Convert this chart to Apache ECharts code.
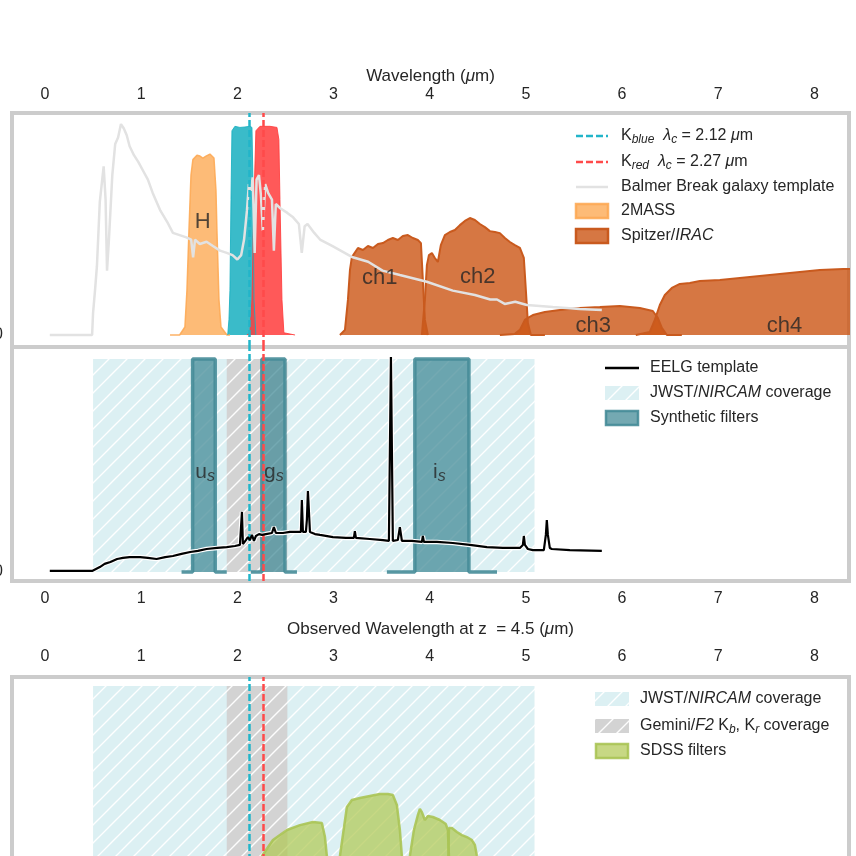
<!DOCTYPE html>
<html><head><meta charset="utf-8">
<script src="https://cdn.jsdelivr.net/npm/echarts@6.0.0/dist/echarts.min.js"></script>
<style>html,body{margin:0;padding:0;background:#fff}#c{width:856px;height:856px}</style>
</head><body><div id="c"></div>
<script>
// ---------------- data ----------------
const xTicks = [0, 1, 2, 3, 4, 5, 6, 7, 8];
const kBlueCenter = 2.12;
const kRedCenter = 2.27;

const balmerTemplate = [[0.05,0],[0.49,0],[0.50,0.10],[0.52,0.20],[0.54,0.31],[0.57,0.60],[0.61,0.76],[0.63,0.61],[0.645,0.29],[0.665,0.43],[0.70,0.72],[0.73,0.86],[0.76,0.89],[0.79,0.95],[0.82,0.93],[0.85,0.90],[0.88,0.85],[0.925,0.81],[0.97,0.78],[1.02,0.74],[1.07,0.70],[1.12,0.64],[1.20,0.56],[1.27,0.51],[1.33,0.46],[1.40,0.45],[1.47,0.44],[1.52,0.43],[1.54,0.35],[1.56,0.43],[1.61,0.41],[1.68,0.42],[1.75,0.40],[1.82,0.38],[1.89,0.37],[1.95,0.36],[2.00,0.34],[2.04,0.36],[2.07,0.43],[2.10,0.56],[2.12,0.68],[2.14,0.65],[2.16,0.71],[2.18,0.37],[2.20,0.70],[2.225,0.72],[2.245,0.63],[2.265,0.47],[2.29,0.68],[2.32,0.64],[2.36,0.61],[2.38,0.38],[2.40,0.59],[2.45,0.57],[2.52,0.55],[2.58,0.53],[2.64,0.50],[2.67,0.37],[2.70,0.49],[2.73,0.50],[2.80,0.46],[2.86,0.43],[2.99,0.40],[3.20,0.35],[3.36,0.33],[3.51,0.29],[3.69,0.27],[3.97,0.24],[4.24,0.20],[4.47,0.18],[4.63,0.16],[4.70,0.16],[4.78,0.14],[4.89,0.15],[5.01,0.135],[5.28,0.126],[5.56,0.117],[5.79,0.113]];

const filterH = [[1.30,0],[1.40,0],[1.455,0.036],[1.476,0.20],[1.497,0.47],[1.518,0.72],[1.538,0.79],[1.58,0.81],[1.611,0.806],[1.642,0.797],[1.674,0.806],[1.715,0.815],[1.757,0.797],[1.778,0.65],[1.788,0.47],[1.809,0.16],[1.83,0.036],[1.892,0],[1.923,0]];
const filterKblue = [[1.90,0],[1.913,0.07],[1.923,0.20],[1.934,0.61],[1.944,0.92],[1.975,0.94],[2.027,0.935],[2.079,0.937],[2.131,0.94],[2.152,0.935],[2.162,0.70],[2.173,0.16],[2.193,0]];
const filterKred = [[2.10,0],[2.131,0.01],[2.152,0.16],[2.173,0.61],[2.193,0.92],[2.235,0.94],[2.339,0.94],[2.412,0.935],[2.432,0.88],[2.443,0.61],[2.464,0.16],[2.484,0.01],[2.60,0]];

const iracCh1 = [[3.067,0],[3.119,0.023],[3.150,0.158],[3.171,0.293],[3.191,0.351],[3.254,0.392],[3.306,0.383],[3.358,0.401],[3.410,0.392],[3.462,0.410],[3.514,0.414],[3.565,0.428],[3.617,0.437],[3.669,0.428],[3.721,0.446],[3.773,0.450],[3.825,0.437],[3.877,0.428],[3.909,0.414],[3.929,0.248],[3.950,0.068],[3.981,0]];
const iracCh2 = [[3.919,0],[3.950,0.158],[3.971,0.315],[3.992,0.360],[4.023,0.369],[4.054,0.347],[4.085,0.329],[4.116,0.405],[4.158,0.450],[4.210,0.464],[4.262,0.473],[4.314,0.495],[4.366,0.514],[4.418,0.527],[4.470,0.518],[4.522,0.500],[4.574,0.486],[4.626,0.468],[4.678,0.464],[4.730,0.459],[4.782,0.437],[4.834,0.419],[4.886,0.405],[4.938,0.392],[4.979,0.347],[5.000,0.203],[5.021,0.054],[5.052,0],[5.198,0]];
const iracCh3 = [[4.730,0],[4.886,0.005],[4.938,0.023],[4.990,0.068],[5.021,0.077],[5.073,0.090],[5.198,0.104],[5.353,0.113],[5.561,0.122],[5.769,0.126],[5.977,0.131],[6.185,0.122],[6.320,0.108],[6.372,0.077],[6.414,0.032],[6.466,0],[6.622,0]];
const iracCh4 = [[6.143,0],[6.289,0.014],[6.341,0.068],[6.393,0.135],[6.445,0.180],[6.518,0.212],[6.601,0.230],[6.705,0.234],[6.809,0.243],[7.017,0.248],[7.225,0.257],[7.432,0.266],[7.640,0.275],[7.848,0.284],[8.056,0.293],[8.30,0.297],[8.50,0.298]];

const topLabelText = ['H', 'ch1', 'ch2', 'ch3', 'ch4'];
const topLabelPos = [[1.64,0.51],[3.48,0.255],[4.50,0.26],[5.70,0.042],[7.69,0.042]];

const eelgTemplate = [[0.05,0.005],[0.49,0.005],[0.57,0.023],[0.62,0.038],[0.68,0.047],[0.75,0.061],[0.81,0.066],[0.88,0.070],[0.99,0.070],[1.07,0.066],[1.16,0.061],[1.25,0.070],[1.33,0.075],[1.42,0.085],[1.51,0.094],[1.59,0.099],[1.68,0.108],[1.79,0.113],[1.89,0.117],[1.975,0.122],[2.027,0.127],[2.037,0.131],[2.048,0.282],[2.058,0.131],[2.089,0.150],[2.110,0.164],[2.131,0.150],[2.152,0.174],[2.173,0.146],[2.193,0.169],[2.225,0.178],[2.256,0.174],[2.297,0.178],[2.360,0.183],[2.380,0.211],[2.401,0.183],[2.474,0.183],[2.547,0.188],[2.620,0.188],[2.661,0.188],[2.671,0.338],[2.682,0.188],[2.713,0.188],[2.723,0.244],[2.734,0.380],[2.755,0.188],[2.807,0.178],[2.859,0.174],[2.994,0.164],[3.129,0.160],[3.212,0.160],[3.222,0.192],[3.233,0.160],[3.378,0.155],[3.514,0.150],[3.576,0.146],[3.597,1.009],[3.617,0.146],[3.669,0.150],[3.690,0.211],[3.711,0.146],[3.815,0.146],[3.919,0.141],[3.929,0.169],[3.940,0.141],[4.075,0.141],[4.241,0.136],[4.418,0.127],[4.595,0.117],[4.761,0.113],[4.938,0.113],[4.969,0.127],[4.979,0.169],[4.990,0.127],[5.021,0.108],[5.073,0.103],[5.187,0.103],[5.208,0.174],[5.218,0.244],[5.229,0.174],[5.249,0.113],[5.270,0.108],[5.457,0.103],[5.790,0.099]];

const nircamRange = [0.5, 5.09];
const geminiRange = [1.89, 2.52];
const coverageTop = 1.0;

const synthU = [[1.42,0],[1.535,0],[1.535,1],[1.77,1],[1.77,0],[1.89,0]];
const synthG = [[2.14,0],[2.255,0],[2.255,1],[2.495,1],[2.495,0],[2.62,0]];
const synthI = [[3.555,0],[3.846,0],[3.846,1],[4.408,1],[4.408,0],[4.70,0]];
const synthLabelText = ['{n|u}{s|s}', '{n|g}{s|s}', '{n|i}{s|s}'];
const synthLabelPos = [[1.665,0.47],[2.38,0.47],[4.10,0.47]];

const sdssG = [[2.10,0],[2.18,0.08],[2.256,0.202],[2.370,0.277],[2.516,0.324],[2.651,0.347],[2.786,0.362],[2.879,0.357],[2.911,0.291],[2.931,0.202],[2.95,0.06],[2.98,0]];
const sdssR = [[3.00,0],[3.04,0.08],[3.067,0.202],[3.139,0.432],[3.191,0.465],[3.274,0.474],[3.378,0.484],[3.482,0.493],[3.565,0.493],[3.617,0.488],[3.659,0.441],[3.690,0.324],[3.711,0.202],[3.73,0.08],[3.76,0]];
const sdssI = [[3.75,0],[3.78,0.08],[3.794,0.202],[3.836,0.324],[3.877,0.394],[3.898,0.423],[3.919,0.408],[3.950,0.371],[3.981,0.390],[4.033,0.385],[4.106,0.371],[4.168,0.352],[4.189,0.324],[4.20,0.202],[4.22,0.06],[4.25,0]];
const sdssZ = [[4.18,0],[4.19,0.1],[4.200,0.333],[4.231,0.333],[4.283,0.315],[4.335,0.300],[4.387,0.291],[4.439,0.277],[4.470,0.254],[4.491,0.202],[4.55,0.08],[4.70,0]];

const legendTop = ['K{sub|blue}  {i|λ}{sub|c} = 2.12 {i|μ}m', 'K{sub|red}  {i|λ}{sub|c} = 2.27 {i|μ}m', 'Balmer Break galaxy template', '2MASS', 'Spitzer/{i|IRAC}'];
const legendMid = ['EELG template', 'JWST/{i|NIRCAM} coverage', 'Synthetic filters'];
const legendBot = ['JWST/{i|NIRCAM} coverage', 'Gemini/{i|F2} K{sub|b}, K{sub|r} coverage', 'SDSS filters'];

// ---------------- style ----------------
const FONT = '"Liberation Sans", Arial, Helvetica, sans-serif';
const TXT = '#262626';
const C = {
  kblue: '#22b5c9', kred: '#ff4a4a',
  kblueFill: 'rgba(23,175,192,0.85)', kredFill: 'rgba(255,60,60,0.85)',
  hFill: 'rgba(253,170,85,0.8)', hEdge: 'rgba(253,170,85,0.9)',
  iracFill: 'rgba(204,85,20,0.8)', iracEdge: '#c95a1e',
  template: '#e2e2e2',
  synthFill: 'rgba(70,140,152,0.75)', synthEdge: 'rgba(70,140,152,0.9)',
  sdssFill: 'rgba(175,200,80,0.7)', sdssEdge: 'rgba(170,196,85,0.9)'
};
function hatch(bg) {
  const s = 18, c = document.createElement('canvas');
  c.width = s; c.height = s;
  const g = c.getContext('2d');
  g.fillStyle = bg; g.fillRect(0, 0, s, s);
  g.strokeStyle = 'rgba(255,255,255,0.95)'; g.lineWidth = 1.4;
  g.beginPath();
  g.moveTo(-2, s + 2); g.lineTo(s + 2, -2);
  g.moveTo(-2, 2); g.lineTo(2, -2);
  g.moveTo(s - 2, s + 2); g.lineTo(s + 2, s - 2);
  g.stroke();
  return { image: c, repeat: 'repeat' };
}
const hatchCyan = hatch('#dcf0f3');
const hatchGray = hatch('#d3d3d3');

function rect(r, top) { return [[r[0],0],[r[0],top],[r[1],top],[r[1],0]]; }

function area(name, data, gi, fill, edge, w, z) {
  return { name, type: 'line', xAxisIndex: gi, yAxisIndex: gi, data, symbol: 'none', silent: true,
    z: z || 2, lineStyle: { color: edge, width: w }, areaStyle: { color: fill, opacity: 1 } };
}
function dashLines(gi) {
  return { type: 'line', xAxisIndex: gi, yAxisIndex: gi, data: [], z: 8, silent: true,
    markLine: { silent: true, symbol: ['none','none'], label: { show: false }, animation: false,
      lineStyle: { type: [7,3], width: 2.5 },
      data: [ { xAxis: kBlueCenter, lineStyle: { color: C.kblue, type: [7,3], width: 2.5 } },
              { xAxis: kRedCenter, lineStyle: { color: C.kred, type: [7,3], width: 2.5 } } ] } };
}
function labels(gi, texts, pos, rich, fs) {
  return { type: 'scatter', xAxisIndex: gi, yAxisIndex: gi, symbolSize: 0, silent: true, z: 9,
    data: texts.map((t, i) => ({ name: t, value: pos[i] })),
    label: { show: true, position: 'inside', formatter: p => p.name, fontSize: fs, color: TXT, fontFamily: FONT, rich } };
}

const xAxisBase = (gi, pos, margin) => ({
  type: 'value', gridIndex: gi, position: pos, min: -0.343, max: 8.36,
  axisLine: { show: false }, axisTick: { show: false }, splitLine: { show: false },
  axisLabel: { customValues: xTicks, fontSize: 16, color: TXT, fontFamily: FONT, margin }
});
const yAxisBase = (gi, min, max) => ({
  type: 'value', gridIndex: gi, min, max,
  axisLine: { show: false }, axisTick: { show: false }, splitLine: { show: false },
  axisLabel: { customValues: [0], fontSize: 16, color: TXT, fontFamily: FONT, margin: 9 }
});
const gridBase = (top) => ({ left: 12, right: 7, top, height: 234, show: true, borderColor: '#cccccc', borderWidth: 4,
  containLabel: false, outerBoundsMode: 'none' });

const richAxis = { i: { fontStyle: 'italic', fontSize: 17, color: TXT, fontFamily: FONT } };

// ---------------- legend (graphic) ----------------
const richLeg = {
  i: { fontStyle: 'italic', fontSize: 16, fill: TXT, color: TXT, fontFamily: FONT, lineHeight: 20 },
  sub: { fontStyle: 'italic', fontSize: 12, fill: TXT, color: TXT, fontFamily: FONT, verticalAlign: 'bottom', lineHeight: 13 }
};
function legText(x, y, text) {
  return { type: 'text', x, y, silent: true,
    style: { text, fontSize: 16, fontFamily: FONT, fill: TXT, verticalAlign: 'middle', align: 'left', lineHeight: 20, rich: richLeg } };
}
function legLine(x1, x2, y, stroke, w, dash) {
  return { type: 'line', silent: true, shape: { x1, y1: y, x2, y2: y }, style: { stroke, lineWidth: w, lineDash: dash || null } };
}
function legPatch(x1, x2, y, fill, stroke) {
  return { type: 'rect', silent: true, shape: { x: x1, y: y - 7, width: x2 - x1, height: 14 },
    style: { fill, stroke: stroke || null, lineWidth: stroke ? 2.5 : 0 } };
}
const graphics = [];
// top legend
const ty = [136, 162, 187, 211, 236];
graphics.push(legLine(576, 608, ty[0], C.kblue, 2.5, [7,3]));
graphics.push(legLine(576, 608, ty[1], C.kred, 2.5, [7,3]));
graphics.push(legLine(576, 608, ty[2], C.template, 2.5));
graphics.push(legPatch(576, 608, ty[3], C.hFill, C.hEdge));
graphics.push(legPatch(576, 608, ty[4], C.iracFill, C.iracEdge));
legendTop.forEach((t, i) => graphics.push(legText(621, ty[i], t)));
// middle legend
const my = [368, 393, 418];
graphics.push(legLine(605, 639, my[0], '#000', 2.5));
graphics.push(legPatch(605, 639, my[1], hatchCyan));
graphics.push(legPatch(606, 638, my[2], C.synthFill, C.synthEdge));
legendMid.forEach((t, i) => graphics.push(legText(650, my[i], t)));
// bottom legend
const by = [699, 726, 751];
graphics.push(legPatch(595, 629, by[0], hatchCyan));
graphics.push(legPatch(595, 629, by[1], hatchGray));
graphics.push(legPatch(596, 628, by[2], C.sdssFill, C.sdssEdge));
legendBot.forEach((t, i) => graphics.push(legText(640, by[i], t)));

// ---------------- option ----------------
const option = {
  animation: false,
  backgroundColor: '#ffffff',
  textStyle: { fontFamily: FONT },
  grid: [gridBase(113), gridBase(347), gridBase(677)],
  xAxis: [
    Object.assign(xAxisBase(0, 'top', 10), { name: 'Wavelength ({i|μ}m)', nameLocation: 'middle', nameGap: 28,
      nameTextStyle: { fontSize: 17, color: TXT, fontFamily: FONT, rich: richAxis } }),
    xAxisBase(1, 'bottom', 10),
    Object.assign(xAxisBase(2, 'top', 12), { name: 'Observed Wavelength at z  = 4.5 ({i|μ}m)', nameLocation: 'middle', nameGap: 39,
      nameTextStyle: { fontSize: 17, color: TXT, fontFamily: FONT, rich: richAxis } })
  ],
  yAxis: [ yAxisBase(0, -0.054, 1.0), yAxisBase(1, -0.0423, 1.0563), yAxisBase(2, -0.056, 1.042) ],
  graphic: graphics,
  series: [
    // top panel
    area('IRAC ch1', iracCh1, 0, C.iracFill, C.iracEdge, 2),
    area('IRAC ch2', iracCh2, 0, C.iracFill, C.iracEdge, 2),
    area('IRAC ch3', iracCh3, 0, C.iracFill, C.iracEdge, 2),
    area('IRAC ch4', iracCh4, 0, C.iracFill, C.iracEdge, 2),
    area('2MASS H', filterH, 0, C.hFill, C.hEdge, 1.5),
    area('K blue', filterKblue, 0, C.kblueFill, C.kblueFill, 1),
    area('K red', filterKred, 0, C.kredFill, C.kredFill, 1),
    { name: 'Balmer Break galaxy template', type: 'line', xAxisIndex: 0, yAxisIndex: 0, data: balmerTemplate,
      symbol: 'none', silent: true, z: 4, lineStyle: { color: C.template, width: 2.5 } },
    labels(0, topLabelText, topLabelPos, {}, 22),
    dashLines(0),
    // middle panel
    area('JWST/NIRCAM coverage', rect(nircamRange, coverageTop), 1, hatchCyan, 'rgba(0,0,0,0)', 0),
    area('Gemini/F2 coverage', rect(geminiRange, coverageTop), 1, hatchGray, 'rgba(0,0,0,0)', 0),
    area('u_s', synthU, 1, C.synthFill, C.synthEdge, 3.5),
    area('g_s', synthG, 1, C.synthFill, C.synthEdge, 3.5),
    area('i_s', synthI, 1, C.synthFill, C.synthEdge, 3.5),
    { name: 'EELG halo', type: 'line', xAxisIndex: 1, yAxisIndex: 1, data: eelgTemplate, symbol: 'none', silent: true, z: 4,
      lineStyle: { color: '#ffffff', width: 4.5 } },
    { name: 'EELG template', type: 'line', xAxisIndex: 1, yAxisIndex: 1, data: eelgTemplate, symbol: 'none', silent: true, z: 5,
      lineStyle: { color: '#000000', width: 2.2 } },
    labels(1, synthLabelText, synthLabelPos, {
      n: { fontSize: 21, color: TXT, fontFamily: FONT, lineHeight: 26 },
      s: { fontSize: 16, fontStyle: 'italic', color: TXT, fontFamily: FONT, verticalAlign: 'bottom', lineHeight: 18 }
    }, 21),
    dashLines(1),
    // bottom panel
    area('JWST/NIRCAM coverage b', rect(nircamRange, coverageTop), 2, hatchCyan, 'rgba(0,0,0,0)', 0),
    area('Gemini/F2 coverage b', rect(geminiRange, coverageTop), 2, hatchGray, 'rgba(0,0,0,0)', 0),
    area('SDSS g', sdssG, 2, C.sdssFill, C.sdssEdge, 2.5),
    area('SDSS r', sdssR, 2, C.sdssFill, C.sdssEdge, 2.5),
    area('SDSS i', sdssI, 2, C.sdssFill, C.sdssEdge, 2.5),
    area('SDSS z', sdssZ, 2, C.sdssFill, C.sdssEdge, 2.5),
    dashLines(2)
  ]
};
const chart = echarts.init(document.getElementById('c'));
chart.setOption(option);
</script>
</body></html>
